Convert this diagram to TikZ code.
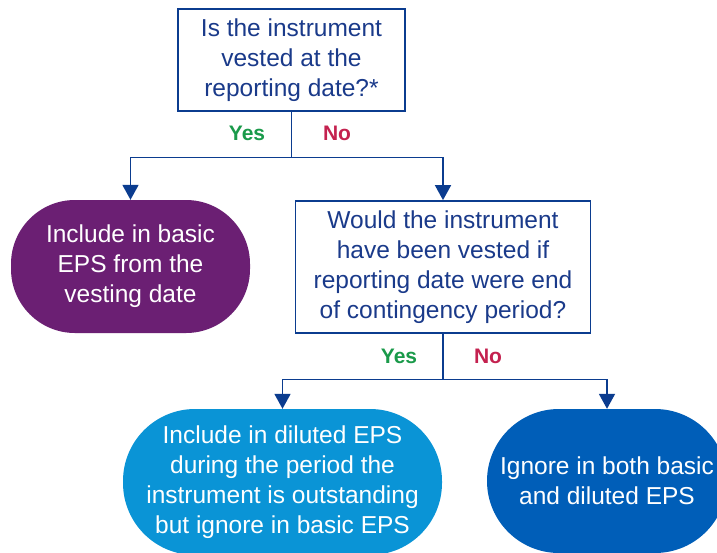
\documentclass[tikz,border=0pt]{standalone}
\usepackage{fontspec}
\setmainfont{Liberation Sans}
\usetikzlibrary{arrows.meta,positioning}
\definecolor{navy}{HTML}{0B3C8F}
\definecolor{qtext}{HTML}{1A3A8A}
\definecolor{purp}{HTML}{6B1F73}
\definecolor{lblue}{HTML}{0A94D6}
\definecolor{dblue}{HTML}{005EB8}
\definecolor{yesg}{HTML}{1A9A4A}
\definecolor{nor}{HTML}{C4214F}
\tikzset{
  qbox/.style={draw=navy, line width=1.8pt, fill=white, text=qtext, align=center,
    font=\fontsize{24.5}{30}\selectfont, inner sep=0pt},
  term/.style={rounded corners=64pt, text=white, align=center,
    font=\fontsize{24.5}{30}\selectfont, inner sep=0pt},
  conn/.style={draw=navy, line width=1.8pt, -{Triangle[width=16pt,length=15pt]}},
  plain/.style={draw=navy, line width=1.8pt},
  yeslab/.style={text=yesg, font=\fontsize{21}{24}\selectfont\bfseries},
  nolab/.style={text=nor, font=\fontsize{21}{24}\selectfont\bfseries}
}
\begin{document}
\begin{tikzpicture}[x=1pt,y=-1pt]
\path[use as bounding box, fill=white] (0,0) rectangle (717,552);
\begin{scope}
\clip (0,0) rectangle (717,552);
\node[qbox, minimum width=227pt, minimum height=102pt] (q1) at (291.5,60)
  {Is the instrument\\vested at the\\reporting date?*};
\node[term, fill=purp, minimum width=239pt, minimum height=133pt] (p1) at (130.5,266.5)
  {Include in basic\\EPS from the\\vesting date};
\node[qbox, minimum width=295pt, minimum height=132pt] (q2) at (443,267)
  {Would the instrument\\have been vested if\\reporting date were end\\of contingency period?};
\node[term, fill=lblue, rounded corners=72pt, minimum width=319pt, minimum height=146pt] (t1) at (282.5,482)
  {Include in diluted EPS\\during the period the\\instrument is outstanding\\but ignore in basic EPS};
\node[term, fill=dblue, rounded corners=72pt, minimum width=240pt, minimum height=144pt] (t2) at (607,481)
  {Ignore in both basic\\and diluted EPS};
\coordinate (j1) at (291.5,157.5);
\coordinate (j2) at (443,379.5);
\draw[plain] (q1.south) -- (j1);
\draw[conn] (j1) -| (p1.north);
\draw[conn] (j1) -| (q2.north);
\draw[plain] (q2.south) -- (j2);
\draw[conn] (j2) -| (t1.north);
\draw[conn] (j2) -| (t2.north);
\node[yeslab] (y1) at (247,133) {Yes};
\node[nolab] (n1) at (337,133) {No};
\node[yeslab] (y2) at (399,356) {Yes};
\node[nolab] (n2) at (488,356) {No};
\end{scope}
\end{tikzpicture}
\end{document}
